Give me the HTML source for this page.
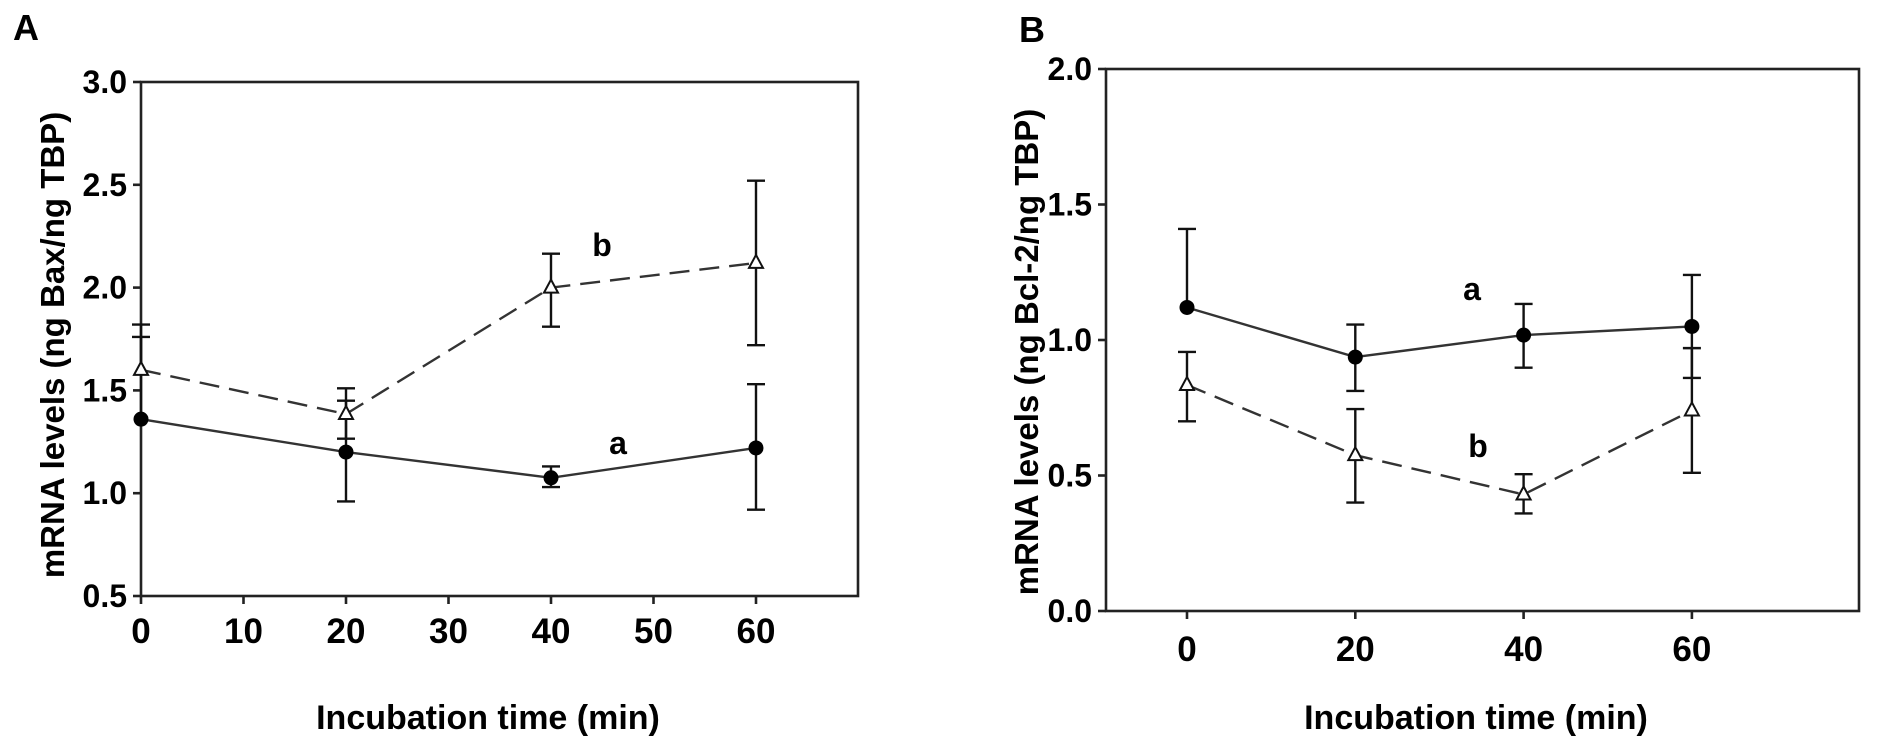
<!DOCTYPE html>
<html><head><meta charset="utf-8"><style>
html,body{margin:0;padding:0;background:#fff}
svg{display:block}
text{font-family:"Liberation Sans",Arial,sans-serif;font-weight:bold;fill:#000}
</style></head><body>
<svg id="fig" width="1878" height="754" viewBox="0 0 1878 754"></svg>
<script>
// Panel A data (Bax)
const timesA = [0, 20, 40, 60];
const baxA = [1.36, 1.20, 1.075, 1.22];
const baxAup = [0.40, 0.25, 0.055, 0.31];
const baxAdn = [0, 0.24, 0.045, 0.30];
const baxB = [1.60, 1.385, 2.00, 2.12];
const baxBup = [0.22, 0.125, 0.165, 0.40];
const baxBdn = [0, 0.12, 0.19, 0.40];
const ticksAx = [0, 10, 20, 30, 40, 50, 60];
const ticksAy = [0.5, 1.0, 1.5, 2.0, 2.5, 3.0];
// Panel B data (Bcl-2)
const timesB = [0, 20, 40, 60];
const bclA = [1.12, 0.937, 1.018, 1.05];
const bclAup = [0.29, 0.12, 0.115, 0.19];
const bclAdn = [0, 0.125, 0.12, 0.19];
const bclB = [0.834, 0.575, 0.43, 0.74];
const bclBup = [0.122, 0.17, 0.075, 0.23];
const bclBdn = [0.134, 0.175, 0.07, 0.23];
const ticksBx = [0, 20, 40, 60];
const ticksBy = [0.0, 0.5, 1.0, 1.5, 2.0];

const NS = "http://www.w3.org/2000/svg";
const svg = document.getElementById('fig');
function mk(tag, attrs, parent) {
  const e = document.createElementNS(NS, tag);
  for (const k in attrs) e.setAttribute(k, attrs[k]);
  (parent || svg).appendChild(e);
  return e;
}
function txt(s, x, y, size, anchor, parent) {
  const t = mk('text', {x: x, y: y, 'font-size': size, 'text-anchor': anchor || 'middle'}, parent);
  t.textContent = s;
  return t;
}

function panel(cfg) {
  const g = mk('g', {});
  
  
  const sx = v => cfg.x0px + (v - cfg.xmin) * cfg.xs;
  const sy = v => cfg.y0px - (v - cfg.ymin) * cfg.ys;
  const L = cfg.left, R = cfg.right, T = sy(cfg.ymax), B = sy(cfg.ymin);
  const frame = mk('rect', {x: L, y: T, width: R - L, height: B - T, fill: 'none', stroke: '#222', 'stroke-width': 2.6}, g);
  
  
  cfg.yt.forEach(v => {
    const y = sy(v);
    const tk = mk('line', {x1: L - 8, x2: L, y1: y, y2: y, stroke: '#222', 'stroke-width': 2.6}, g);
    
    
    const lb = txt(v.toFixed(1), L - 14, y + 11, 32, 'end', g);
    
    
  });
  cfg.xt.forEach(v => {
    const x = sx(v);
    const tk = mk('line', {x1: x, x2: x, y1: B, y2: B + 8, stroke: '#222', 'stroke-width': 2.6}, g);
    
    
    const lb = txt(String(v), x, cfg.xlabY, 35, 'middle', g);
    
    
  });
  cfg.series.forEach(s => {
    const pts = s.t.map((t, i) => sx(t) + ',' + sy(s.v[i])).join(' ');
    const pl = mk('polyline', {points: pts, fill: 'none', stroke: '#333', 'stroke-width': 2.4, 'stroke-dasharray': s.dash ? '20 10' : 'none'}, g);
    
    
    s.t.forEach((t, i) => {
      const x = sx(t), y = sy(s.v[i]);
      const yu = sy(s.v[i] + s.up[i]), yd = sy(s.v[i] - s.dn[i]);
      const eb = mk('path', {d: `M${x},${yu}V${yd}` + (s.up[i] > 0 ? `M${x - 9},${yu}H${x + 9}` : '') + (s.dn[i] > 0 ? `M${x - 9},${yd}H${x + 9}` : ''), stroke: '#111', 'stroke-width': 2.4, fill: 'none'}, g);
      
      
      let m;
      if (s.marker === 'circle') {
        m = mk('circle', {cx: x, cy: y, r: 7.5, fill: '#000'}, g);
      } else {
        m = mk('polygon', {points: `${x},${y - 8} ${x - 7},${y + 5} ${x + 7},${y + 5}`, fill: '#fff', stroke: '#111', 'stroke-width': 2}, g);
      }
      
      
    });
  });
  return g;
}

panel({name: 'panel-a', x0px: 141, xmin: 0, xs: 10.25, y0px: 596, ymin: 0.5, ymax: 3.0, ys: 205.6,
  left: 141, right: 858, xt: ticksAx, yt: ticksAy, xlabY: 643,
  series: [
    {name: 'bax-a', t: timesA, v: baxA, up: baxAup, dn: baxAdn, marker: 'circle', dash: false},
    {name: 'bax-b', t: timesA, v: baxB, up: baxBup, dn: baxBdn, marker: 'tri', dash: true}
  ]});
panel({name: 'panel-b', x0px: 1187, xmin: 0, xs: 8.415, y0px: 611, ymin: 0, ymax: 2.0, ys: 271,
  left: 1106, right: 1859, xt: ticksBx, yt: ticksBy, xlabY: 661,
  series: [
    {name: 'bcl-a', t: timesB, v: bclA, up: bclAup, dn: bclAdn, marker: 'circle', dash: false},
    {name: 'bcl-b', t: timesB, v: bclB, up: bclBup, dn: bclBdn, marker: 'tri', dash: true}
  ]});

let t;
t = txt('A', 26, 40, 36, 'middle');  
t = txt('B', 1032, 42, 36, 'middle');  
t = txt('b', 602, 256, 32);  
t = txt('a', 618, 454, 32);  
t = txt('a', 1472, 300, 32);  
t = txt('b', 1478, 457, 32);  
t = txt('Incubation time (min)', 488, 729, 34);  
t = txt('Incubation time (min)', 1476, 729, 34);  
t = txt('mRNA levels (ng Bax/ng TBP)', 0, 0, 33); t.setAttribute('transform', 'translate(64,345) rotate(-90)');
 
t = txt('mRNA levels (ng  Bcl-2/ng TBP)', 0, 0, 33); t.setAttribute('transform', 'translate(1038,352) rotate(-90)');
 
</script>
</body></html>
